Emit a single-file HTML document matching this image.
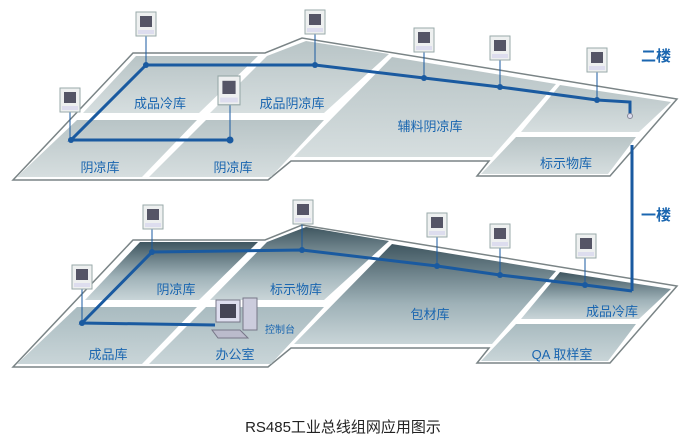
<!DOCTYPE html>
<html><head><meta charset="utf-8"><style>
html,body{margin:0;padding:0;background:#fff;}
svg{display:block;}
text{font-family:"Liberation Sans","Noto Sans CJK SC",sans-serif;}
</style></head><body>
<svg width="686" height="443" viewBox="0 0 686 443" xmlns="http://www.w3.org/2000/svg">
<defs>
<linearGradient id="gt" x1="0" y1="0" x2="0" y2="1"><stop offset="0" stop-color="#b8c4c6"/><stop offset="1" stop-color="#d6dedf"/></linearGradient>
<linearGradient id="gb" x1="0" y1="0" x2="0" y2="1"><stop offset="0" stop-color="#3f5660"/><stop offset="0.6" stop-color="#9fb2b8"/><stop offset="1" stop-color="#c9d5d8"/></linearGradient>
<linearGradient id="gb2" x1="0" y1="0" x2="0" y2="1"><stop offset="0" stop-color="#a9bbc0"/><stop offset="1" stop-color="#c9d5d8"/></linearGradient>
<g id="outline">
<polygon points="13,180 133,53 265,53 302,38 677,99 610,176 477,176 489,161 291,161 268,180" fill="#fff" stroke="#7a8486" stroke-width="1.5"/>
</g>
<g id="therm"><rect x="0" y="0" width="20" height="24" fill="#eef0f0" stroke="#9aa" stroke-width="1"/><rect x="4" y="4" width="12" height="11" fill="#556"/><rect x="2" y="18" width="16" height="4" fill="#dde"/></g>
</defs>

<!-- top floor -->
<use href="#outline"/>
<g fill="url(#gt)">
<polygon points="136,56 258,56 199,113 83,113"/>
<polygon points="267,56 306,41 389,54 324,113 210,113"/>
<polygon points="77,120 197,120 142,177 17,177"/>
<polygon points="206,120 324,120 271,177 149,177"/>
<polygon points="392,57 556,84 492,157 294,157"/>
<polygon points="560,85 671,102 639,132 521,132"/>
<polygon points="516,137 636,137 608,174 481,174"/>
</g>

<!-- bottom floor -->
<g transform="translate(0,187)">
<use href="#outline"/>
<g fill="url(#gb)">
<polygon points="140,55 258,55 199,113 85,113"/>
<polygon points="267,55 306,40 389,54 324,113 210,113"/>
<polygon points="392,57 556,84 492,157 294,157"/>
<polygon points="560,85 671,102 639,132 521,132"/>
</g>
<g fill="url(#gb2)">
<polygon points="77,120 197,120 142,177 17,177"/>
<polygon points="206,120 324,120 271,177 149,177"/>
<polygon points="516,137 636,137 608,174 481,174"/>
</g>
</g>

<!-- bus lines top -->
<g stroke="#1a5aa0" fill="none">
<polyline points="146,65 315,65 424,78 500,87 597,100 630,102 630,115" stroke-width="3"/>
<polyline points="146,65 71,140 230,140" stroke-width="3"/>
<line x1="146" y1="36" x2="146" y2="65" stroke-width="1"/>
<line x1="315" y1="34" x2="315" y2="65" stroke-width="1"/>
<line x1="424" y1="52" x2="424" y2="78" stroke-width="1"/>
<line x1="500" y1="60" x2="500" y2="87" stroke-width="1"/>
<line x1="597" y1="72" x2="597" y2="100" stroke-width="1"/>
<line x1="70" y1="112" x2="70" y2="140" stroke-width="1"/>
<line x1="230" y1="104" x2="230" y2="140" stroke-width="1"/>
<line x1="632" y1="145" x2="632" y2="291" stroke-width="3"/>
<polyline points="152,252 302,250 437,266 500,275 585,285 632,291" stroke-width="3"/>
<polyline points="152,252 82,323 215,325" stroke-width="3"/>
<line x1="152" y1="229" x2="152" y2="252" stroke-width="1"/>
<line x1="302" y1="224" x2="302" y2="250" stroke-width="1"/>
<line x1="437" y1="237" x2="437" y2="266" stroke-width="1"/>
<line x1="500" y1="248" x2="500" y2="275" stroke-width="1"/>
<line x1="585" y1="258" x2="585" y2="285" stroke-width="1"/>
<line x1="82" y1="289" x2="82" y2="323" stroke-width="1"/>
</g>
<circle cx="630" cy="116" r="2.5" fill="#dde" stroke="#889"/>
<g fill="#1a5aa0">
<circle cx="146" cy="65" r="3"/><circle cx="315" cy="65" r="3"/><circle cx="424" cy="78" r="3"/><circle cx="500" cy="87" r="3"/><circle cx="597" cy="100" r="3"/><circle cx="71" cy="140" r="3"/><circle cx="230" cy="140" r="3.5"/>
<circle cx="152" cy="252" r="3"/><circle cx="302" cy="250" r="3"/><circle cx="437" cy="266" r="3"/><circle cx="500" cy="275" r="3"/><circle cx="585" cy="285" r="3"/><circle cx="82" cy="323" r="3"/>
</g>

<!-- thermostats -->
<use href="#therm" x="136" y="12"/>
<use href="#therm" x="305" y="10"/>
<use href="#therm" x="414" y="28"/>
<use href="#therm" x="490" y="36"/>
<use href="#therm" x="587" y="48"/>
<use href="#therm" x="60" y="88"/>
<g transform="translate(218,76) scale(1.1,1.2)"><use href="#therm"/></g>
<use href="#therm" x="143" y="205"/>
<use href="#therm" x="293" y="200"/>
<use href="#therm" x="427" y="213"/>
<use href="#therm" x="490" y="224"/>
<use href="#therm" x="576" y="234"/>
<use href="#therm" x="72" y="265"/>

<!-- computer -->
<g>
<rect x="243" y="298" width="14" height="32" fill="#ccd" stroke="#778"/>
<rect x="216" y="300" width="24" height="22" fill="#dde" stroke="#778"/>
<rect x="220" y="304" width="16" height="14" fill="#445"/>
<polygon points="212,330 240,330 248,338 218,338" fill="#bbc" stroke="#778"/>
</g>

<!-- labels -->
<g fill="#1a66b0" font-size="13" text-anchor="middle">
<text x="160" y="108">成品冷库</text>
<text x="292" y="108">成品阴凉库</text>
<text x="430" y="131">辅料阴凉库</text>
<text x="100" y="172">阴凉库</text>
<text x="233" y="172">阴凉库</text>
<text x="566" y="168">标示物库</text>
<text x="176" y="294">阴凉库</text>
<text x="296" y="294">标示物库</text>
<text x="430" y="319">包材库</text>
<text x="612" y="316">成品冷库</text>
<text x="108" y="359">成品库</text>
<text x="235" y="359">办公室</text>
<text x="562" y="359">QA 取样室</text>
<text x="280" y="333" font-size="10">控制台</text>
</g>
<g fill="#1a66b0" font-size="15" font-weight="bold" text-anchor="middle">
<text x="656" y="61">二楼</text>
<text x="656" y="220">一楼</text>
</g>
<text x="343" y="432" font-size="15" fill="#222" text-anchor="middle">RS485工业总线组网应用图示</text>
</svg>
</body></html>
